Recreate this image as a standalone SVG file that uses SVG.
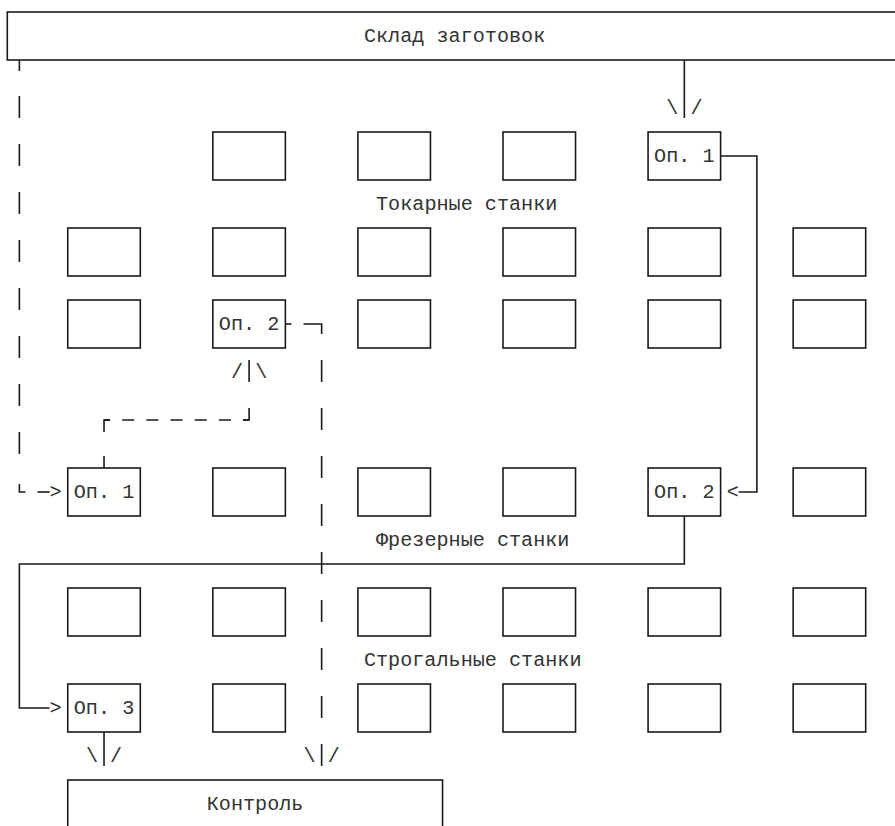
<svg xmlns="http://www.w3.org/2000/svg" width="895" height="826" viewBox="0 0 895 826">
<style>
.bg{fill:#ffffff}
.box{fill:#ffffff;stroke:#1a1a1a;stroke-width:1.6}
.ln{fill:none;stroke:#1a1a1a;stroke-width:1.6}
.dv{fill:none;stroke:#1a1a1a;stroke-width:1.6;stroke-dasharray:22 26}
.dh{fill:none;stroke:#1a1a1a;stroke-width:1.6;stroke-dasharray:12.09 12.09;stroke-dashoffset:6.05}
.t{font-family:"Liberation Mono","DejaVu Sans Mono",monospace;font-size:20.15px;fill:#333333}
</style>
<rect class="bg" x="0" y="0" width="895" height="826"/>

<g id="sklad">
<rect class="box" x="7.3" y="12" width="900" height="48"/>
<text class="t" x="363.95" y="41.5">Склад заготовок</text>
</g>

<g id="turning-row1">
<g id="t1-17"><rect class="box" x="212.83" y="132" width="72.54" height="48"/></g>
<g id="t1-29"><rect class="box" x="357.91" y="132" width="72.54" height="48"/></g>
<g id="t1-41"><rect class="box" x="502.99" y="132" width="72.54" height="48"/></g>
<g id="t1-53-op1"><rect class="box" x="648.07" y="132" width="72.54" height="48"/><text class="t" x="654.11" y="161.5">Оп. 1</text></g>
</g>
<g id="label-turning"><text class="t" x="376.04" y="209.5">Токарные станки</text></g>

<g id="turning-row2">
<g id="t2-5"><rect class="box" x="67.75" y="228" width="72.54" height="48"/></g>
<g id="t2-17"><rect class="box" x="212.83" y="228" width="72.54" height="48"/></g>
<g id="t2-29"><rect class="box" x="357.91" y="228" width="72.54" height="48"/></g>
<g id="t2-41"><rect class="box" x="502.99" y="228" width="72.54" height="48"/></g>
<g id="t2-53"><rect class="box" x="648.07" y="228" width="72.54" height="48"/></g>
<g id="t2-65"><rect class="box" x="793.15" y="228" width="72.54" height="48"/></g>
</g>

<g id="turning-row3">
<g id="t3-5"><rect class="box" x="67.75" y="300" width="72.54" height="48"/></g>
<g id="t3-17-op2"><rect class="box" x="212.83" y="300" width="72.54" height="48"/><text class="t" x="218.87" y="329.5">Оп. 2</text></g>
<g id="t3-29"><rect class="box" x="357.91" y="300" width="72.54" height="48"/></g>
<g id="t3-41"><rect class="box" x="502.99" y="300" width="72.54" height="48"/></g>
<g id="t3-53"><rect class="box" x="648.07" y="300" width="72.54" height="48"/></g>
<g id="t3-65"><rect class="box" x="793.15" y="300" width="72.54" height="48"/></g>
</g>

<g id="milling-row">
<g id="m-5-op1"><rect class="box" x="67.75" y="468" width="72.54" height="48"/><text class="t" x="73.79" y="497.5">Оп. 1</text></g>
<g id="m-17"><rect class="box" x="212.83" y="468" width="72.54" height="48"/></g>
<g id="m-29"><rect class="box" x="357.91" y="468" width="72.54" height="48"/></g>
<g id="m-41"><rect class="box" x="502.99" y="468" width="72.54" height="48"/></g>
<g id="m-53-op2"><rect class="box" x="648.07" y="468" width="72.54" height="48"/><text class="t" x="654.11" y="497.5">Оп. 2</text></g>
<g id="m-65"><rect class="box" x="793.15" y="468" width="72.54" height="48"/></g>
</g>
<g id="label-milling"><text class="t" x="376.04" y="545.5">Фрезерные станки</text></g>

<g id="planing-row1">
<g id="p1-5"><rect class="box" x="67.75" y="588" width="72.54" height="48"/></g>
<g id="p1-17"><rect class="box" x="212.83" y="588" width="72.54" height="48"/></g>
<g id="p1-29"><rect class="box" x="357.91" y="588" width="72.54" height="48"/></g>
<g id="p1-41"><rect class="box" x="502.99" y="588" width="72.54" height="48"/></g>
<g id="p1-53"><rect class="box" x="648.07" y="588" width="72.54" height="48"/></g>
<g id="p1-65"><rect class="box" x="793.15" y="588" width="72.54" height="48"/></g>
</g>
<g id="label-planing"><text class="t" x="363.95" y="665.5">Строгальные станки</text></g>

<g id="planing-row2">
<g id="p2-5-op3"><rect class="box" x="67.75" y="684" width="72.54" height="48"/><text class="t" x="73.79" y="713.5">Оп. 3</text></g>
<g id="p2-17"><rect class="box" x="212.83" y="684" width="72.54" height="48"/></g>
<g id="p2-29"><rect class="box" x="357.91" y="684" width="72.54" height="48"/></g>
<g id="p2-41"><rect class="box" x="502.99" y="684" width="72.54" height="48"/></g>
<g id="p2-53"><rect class="box" x="648.07" y="684" width="72.54" height="48"/></g>
<g id="p2-65"><rect class="box" x="793.15" y="684" width="72.54" height="48"/></g>
</g>

<g id="kontrol">
<rect class="box" x="67.75" y="780" width="374.79" height="48"/>
<text class="t" x="206.78" y="809.5">Контроль</text>
</g>

<g id="connectors">
<!-- Sklad to turning Op.1 -->
<line class="ln" x1="684.34" y1="60" x2="684.34" y2="118"/>
<text class="t" x="666.2" y="113.5">\</text><text class="t" x="690.38" y="113.5">/</text>
<!-- turning Op.1 to milling Op.2 -->
<path class="ln" d="M720.61 156 H756.88 V492 H738.7"/>
<text class="t" x="726.65" y="497.5">&lt;</text>
<!-- milling Op.2 to planing Op.3 -->
<path class="ln" d="M684.34 516 V564 H19.39 V708 H49.6"/>
<text class="t" x="49.6" y="713.5">&gt;</text>
<!-- planing Op.3 to Kontrol -->
<line class="ln" x1="104.02" y1="732" x2="104.02" y2="766"/>
<text class="t" x="85.88" y="761.5">\</text><text class="t" x="110.06" y="761.5">/</text>
<!-- dashed: Sklad to milling Op.1 -->
<line class="ln" x1="19.39" y1="60" x2="19.39" y2="71"/>
<line class="dv" x1="19.39" y1="96" x2="19.39" y2="456"/>
<path class="ln" d="M19.39 484 V492 H25.4"/>
<line class="ln" x1="37.5" y1="492" x2="49.6" y2="492"/>
<text class="t" x="49.6" y="497.5">&gt;</text>
<!-- dashed: milling Op.1 to turning Op.2 -->
<line class="ln" x1="104.02" y1="456" x2="104.02" y2="468"/>
<path class="ln" d="M104.02 432 V420 H110.07"/>
<line class="dh" x1="104.02" y1="420" x2="249.1" y2="420"/>
<path class="ln" d="M243.05 420 H249.1 V408"/>
<line class="ln" x1="249.1" y1="360" x2="249.1" y2="382"/>
<text class="t" x="230.96" y="377.5">/</text><text class="t" x="255.14" y="377.5">\</text>
<!-- dashed: turning Op.2 to Kontrol -->
<line class="ln" x1="285.37" y1="324" x2="291.42" y2="324"/>
<path class="ln" d="M303.5 324 H321.64 V334"/>
<line class="dv" x1="321.64" y1="360" x2="321.64" y2="768"/>
<text class="t" x="303.5" y="761.5">\</text><text class="t" x="327.68" y="761.5">/</text>
</g>
</svg>
